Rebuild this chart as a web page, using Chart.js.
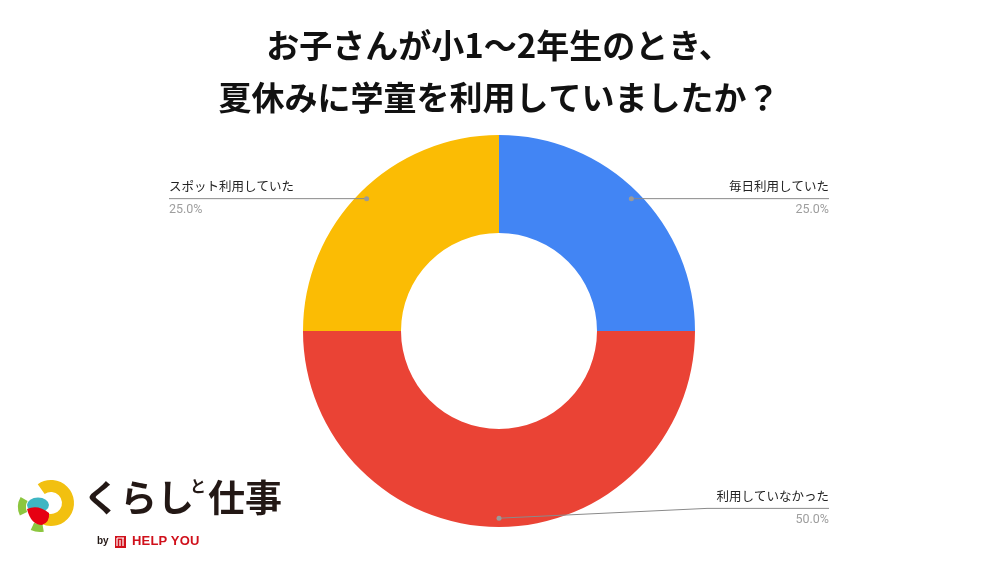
<!DOCTYPE html>
<html lang="ja">
<head>
<meta charset="utf-8">
<script src="https://cdn.jsdelivr.net/npm/chart.js@4.4.1/dist/chart.umd.min.js"></script>
<style>
  html, body { margin: 0; padding: 0; background: #fff; }
  #wrap { position: relative; width: 1000px; height: 563px; overflow: hidden; }
  #c { position: absolute; left: 0; top: 0; }
  #logo { position: absolute; left: 0; top: 460px; width: 300px; height: 103px; font-family: "Noto Sans CJK JP", sans-serif; }
  #logo svg { position: absolute; left: 0; top: 0; }
  #brand { position: absolute; left: 83px; top: 17px; font-size: 37px; font-weight: 700; color: #231815; line-height: 1; white-space: nowrap; }
  #brand .to { font-size: 16px; vertical-align: 20px; margin-left: -4px; margin-right: 2px; }
  #by { position: absolute; left: 97px; top: 75px; font-size: 10px; font-weight: 700; color: #231815; font-family: "Liberation Sans", Arial, sans-serif; }
  #hy { position: absolute; left: 132px; top: 73px; font-size: 13px; font-weight: 700; color: #d0101b; font-family: "Liberation Sans", Arial, sans-serif; letter-spacing: 0.2px; }
</style>
</head>
<body>
<div id="wrap">
  <canvas id="c" width="1000" height="563"></canvas>
  <div id="logo">
    <svg width="140" height="103" viewBox="0 0 140 103">
      <!-- yellow C -->
      <path d="M 41.2 29.1 A 17 17 0 1 1 43.8 58.4" fill="none" stroke="#f2c010" stroke-width="12"/>
      <!-- green pieces -->
      <path d="M 23.5 53.8 A 16 16 0 0 1 24.1 39" fill="none" stroke="#8cc63f" stroke-width="8"/>
      <path d="M 43.1 67.7 A 18 18 0 0 1 32.4 66.3" fill="none" stroke="#8cc63f" stroke-width="8"/>
      <!-- teal -->
      <ellipse cx="38" cy="45" rx="11" ry="7.5" fill="#3fb6c3"/>
      <!-- red -->
      <path d="M 27 49 Q 38 44 49 53 Q 50 62 42 65 Q 31 65 27 49 Z" fill="#e60012"/>
      <!-- red square icon -->
      <rect x="115" y="76" width="11" height="12" fill="#d0101b"/>
      <path d="M 117 78 L 117 86 M 120 80 L 120 86 M 123 78 L 123 86 M 117 78 L 124 78" stroke="#fff" stroke-width="1.2" fill="none"/>
    </svg>
    <div id="brand">くらし<span class="to">と</span>仕事</div>
    <div id="by">by</div>
    <div id="hy">HELP YOU</div>
  </div>
</div>
<script>
const titleLines = ["お子さんが小1～2年生のとき、", "夏休みに学童を利用していましたか？"];
const categories = ["毎日利用していた", "利用していなかった", "スポット利用していた"];
const values = [25, 50, 25];
const colors = ["#4285F4", "#EA4335", "#FBBC04"];

const leaderLabels = {
  id: 'leaderLabels',
  afterDraw(chart) {
    const ctx = chart.ctx;
    const meta = chart.getDatasetMeta(0);
    const data = chart.data.datasets[0].data;
    const total = data.reduce((a, b) => a + b, 0);
    ctx.save();
    meta.data.forEach((arc, i) => {
      const p = arc.getProps(['x', 'y', 'startAngle', 'endAngle', 'outerRadius'], true);
      const mid = (p.startAngle + p.endAngle) / 2;
      const R = p.outerRadius;
      const r = R * 0.955;
      const dx = p.x + Math.cos(mid) * r;
      const dy = p.y + Math.sin(mid) * r;
      const right = Math.cos(mid) >= -1e-6;
      const dir = right ? 1 : -1;
      let ly = Math.min(dy, p.y + R * 0.905);
      const elbowX = p.x + dir * (R + 12);
      const endX = p.x + dir * 330;
      ctx.strokeStyle = '#8a8a8a';
      ctx.lineWidth = 1;
      ctx.beginPath();
      ctx.moveTo(dx, dy);
      if (Math.abs(ly - dy) > 0.5) {
        ctx.lineTo(elbowX, ly);
      }
      ctx.lineTo(endX, ly);
      ctx.stroke();
      ctx.fillStyle = '#9a9a9a';
      ctx.beginPath();
      ctx.arc(dx, dy, 2.5, 0, Math.PI * 2);
      ctx.fill();
      ctx.textAlign = right ? 'right' : 'left';
      ctx.textBaseline = 'middle';
      ctx.font = '12.5px "Noto Sans CJK JP", sans-serif';
      ctx.fillStyle = '#222222';
      ctx.fillText(chart.data.labels[i], endX, ly - 12);
      ctx.font = '12.5px "Roboto", "Noto Sans", sans-serif';
      ctx.fillStyle = '#9e9e9e';
      ctx.fillText((data[i] / total * 100).toFixed(1) + '%', endX, ly + 11);
    });
    ctx.restore();
  }
};

new Chart(document.getElementById('c'), {
  type: 'doughnut',
  data: {
    labels: categories,
    datasets: [{
      data: values,
      backgroundColor: colors,
      borderWidth: 0,
      hoverOffset: 0
    }]
  },
  options: {
    responsive: false,
    animation: false,
    cutout: '50%',
    layout: { padding: { top: 0, bottom: 36, left: 0, right: 2 } },
    plugins: {
      legend: { display: false },
      tooltip: { enabled: false },
      title: {
        display: true,
        text: titleLines,
        color: '#111111',
        font: { family: '"Noto Sans CJK JP", sans-serif', size: 33, weight: 'bold', lineHeight: 1.6 },
        padding: { top: 18.6, bottom: 10.8 }
      }
    }
  },
  plugins: [leaderLabels]
});
</script>
</body>
</html>
